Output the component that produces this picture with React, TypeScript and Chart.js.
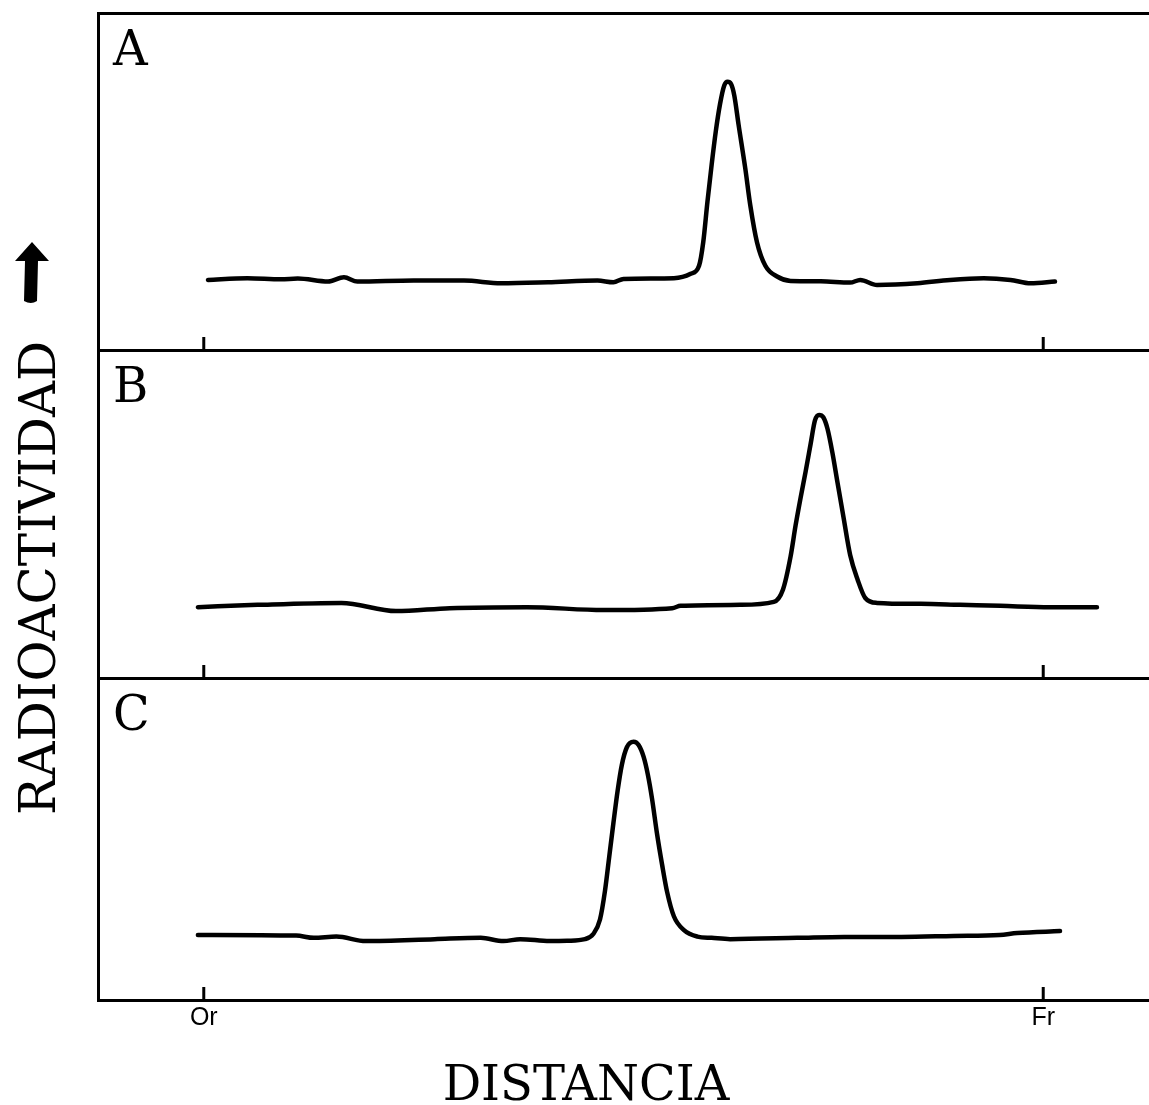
import React, { useEffect, useRef } from 'react';
import { Chart, registerables } from 'chart.js';

Chart.register(...registerables);

// Panel labels, axis ticks and titles
const panelLabels = ['A', 'B', 'C'];
const tickValues = [0, 100];
const tickLabels = ['Or', 'Fr'];
const xTitle = 'DISTANCIA';
const yTitle = 'RADIOACTIVIDAD';

// Panel A: distance (Or = 0, Fr = 100) and radioactivity (relative units)
const distA = [0.5, 5.2, 9.2, 11.2, 14.8, 16.7, 18.3, 25.0, 31.0, 35.4, 41.0, 46.9, 48.8, 50.0, 56.0, 58.0, 59.0, 59.5, 60.0, 60.5, 61.0, 61.5, 62.0, 62.4, 62.8, 63.2, 63.7, 64.5, 65.1, 65.9, 66.9, 68.3, 69.9, 73.5, 77.0, 78.2, 80.2, 85.0, 88.9, 92.9, 96.1, 98.5, 101.4];
const radA = [20.8, 21.3, 21.0, 21.2, 20.3, 21.6, 20.3, 20.6, 20.6, 19.8, 20.1, 20.6, 20.1, 21.1, 21.3, 22.6, 25.0, 32.0, 44.0, 55.0, 65.0, 73.0, 78.5, 79.6, 79.0, 75.5, 67.0, 54.0, 43.0, 32.0, 25.0, 21.8, 20.5, 20.4, 20.0, 20.8, 19.3, 19.8, 20.8, 21.3, 20.8, 19.8, 20.3];

// Panel B
const distB = [-0.7, 6.4, 16.4, 22.9, 29.3, 38.5, 47.6, 55.8, 56.8, 63.9, 67.9, 69.0, 69.9, 70.5, 71.1, 71.7, 72.3, 72.8, 73.3, 73.8, 74.3, 74.9, 75.5, 76.2, 77.0, 77.9, 78.8, 80.2, 85.4, 90.1, 94.9, 100.8, 106.4];
const radB = [21.6, 22.3, 22.9, 20.4, 21.3, 21.6, 20.7, 21.3, 22.0, 22.3, 23.2, 27.0, 37.0, 46.5, 55.0, 63.0, 71.5, 78.5, 80.2, 79.5, 76.0, 68.5, 59.5, 49.1, 37.5, 29.9, 24.4, 22.9, 22.6, 22.3, 22.0, 21.6, 21.6];

// Panel C
const distC = [-0.7, 11.0, 13.1, 15.8, 19.3, 27.5, 33.0, 35.7, 37.7, 41.2, 43.3, 45.4, 46.4, 47.2, 47.8, 48.3, 48.8, 49.3, 49.8, 50.4, 51.2, 51.8, 52.4, 52.9, 53.4, 54.0, 54.6, 55.2, 56.0, 57.2, 58.8, 60.5, 62.7, 70.7, 76.3, 83.1, 89.3, 94.8, 96.9, 102.0];
const radC = [20.2, 20.0, 19.3, 19.7, 18.3, 18.9, 19.3, 18.3, 18.9, 18.3, 18.4, 18.9, 20.5, 25.0, 34.0, 44.5, 55.0, 65.0, 73.0, 78.5, 80.2, 79.2, 75.5, 70.0, 62.5, 51.5, 42.0, 33.5, 26.0, 21.7, 19.7, 19.3, 18.9, 19.3, 19.6, 19.6, 19.9, 20.2, 20.8, 21.4];

const panelAxes = ['yA', 'yB', 'yC'];
const panelWeights = [337, 328, 322];

const decor = {
  id: 'decor',
  afterDraw(chart: any) {
    const ctx = chart.ctx as CanvasRenderingContext2D;
    const xs = chart.scales.x;
    ctx.save();
    // inward tick marks at Or / Fr on each panel's base line
    ctx.strokeStyle = '#000';
    ctx.lineWidth = 3;
    panelAxes.forEach((id) => {
      const s = chart.scales[id];
      tickValues.forEach((v) => {
        const px = xs.getPixelForValue(v);
        ctx.beginPath();
        ctx.moveTo(px, s.bottom);
        ctx.lineTo(px, s.bottom - 13);
        ctx.stroke();
      });
    });
    // panel letters
    ctx.fillStyle = '#000';
    ctx.font = '48px "DejaVu Serif"';
    ctx.textAlign = 'left';
    ctx.textBaseline = 'alphabetic';
    panelAxes.forEach((id, i) => {
      const s = chart.scales[id];
      ctx.fillText(panelLabels[i], 113, s.top + 52);
    });
    // x title
    ctx.font = '48px "DejaVu Serif"';
    ctx.textAlign = 'center';
    ctx.fillText(xTitle, 586, 1100);
    // y title (rotated)
    ctx.save();
    ctx.translate(55, 578);
    ctx.rotate(-Math.PI / 2);
    ctx.font = '50px "DejaVu Serif"';
    ctx.textAlign = 'center';
    ctx.fillText(yTitle, 0, 0);
    ctx.restore();
    // arrow
    ctx.beginPath();
    ctx.moveTo(32, 242);
    ctx.lineTo(49, 261);
    ctx.lineTo(38, 261);
    ctx.lineTo(37, 301);
    ctx.quadraticCurveTo(31, 305, 24, 301);
    ctx.lineTo(25, 261);
    ctx.lineTo(15, 261);
    ctx.closePath();
    ctx.fill();
    ctx.restore();
  },
};

function panelScale(i: number) {
  return {
    type: 'linear',
    position: 'left',
    stack: 'panels',
    stackWeight: panelWeights[i],
    min: 0,
    max: 100,
    ticks: { display: false },
    grid: { display: true, drawTicks: false, color: '#000', lineWidth: 3 },
    border: { display: true, color: '#000', width: 3 },
    afterBuildTicks: (s: any) => {
      s.ticks = i === 0 ? [{ value: 0 }, { value: 100 }] : [{ value: 0 }];
    },
    afterFit: (s: any) => {
      s.width = 0;
    },
  };
}

export default function App() {
  const ref = useRef<HTMLCanvasElement>(null);
  useEffect(() => {
    document.body.style.margin = '0';
    const canvas = ref.current!;
    const series: [number[], number[], string][] = [
      [distA, radA, 'yA'],
      [distB, radB, 'yB'],
      [distC, radC, 'yC'],
    ];
    const chart = new Chart(canvas, {
      type: 'line',
      data: {
        datasets: series.map(([xv, yv, axis]) => ({
          data: xv.map((x, k) => ({ x, y: yv[k] })),
          yAxisID: axis,
          borderColor: '#000',
          borderWidth: 4.5,
          pointRadius: 0,
          fill: false,
          cubicInterpolationMode: 'monotone',
          borderCapStyle: 'round',
          borderJoinStyle: 'round',
          clip: false,
        })),
      },
      options: {
        responsive: false,
        animation: false,
        devicePixelRatio: 1,
        layout: { padding: { top: 13, left: 98, right: 0, bottom: 0 } },
        plugins: { legend: { display: false }, tooltip: { enabled: false } },
        scales: {
          x: {
            type: 'linear',
            position: 'bottom',
            min: -12.6,
            max: 112.6,
            grid: { display: false, drawTicks: false },
            border: { display: true, color: '#000', width: 3 },
            ticks: {
              autoSkip: false,
              maxRotation: 0,
              padding: 3,
              color: '#000',
              font: { family: 'Liberation Sans', size: 25 },
              callback: (v: any) => {
                const k = tickValues.indexOf(Number(v));
                return k >= 0 ? tickLabels[k] : '';
              },
            },
            afterBuildTicks: (s: any) => {
              s.ticks = tickValues.map((v) => ({ value: v }));
            },
            afterFit: (s: any) => {
              s.height = 105;
            },
          },
          // stacked axes are laid out last-defined-on-top, so C, B, A
          yC: panelScale(2),
          yB: panelScale(1),
          yA: panelScale(0),
        } as any,
      },
      plugins: [decor],
    } as any);
    return () => chart.destroy();
  }, []);
  return <canvas ref={ref} width={1149} height={1105} style={{ display: 'block' }} />;
}
